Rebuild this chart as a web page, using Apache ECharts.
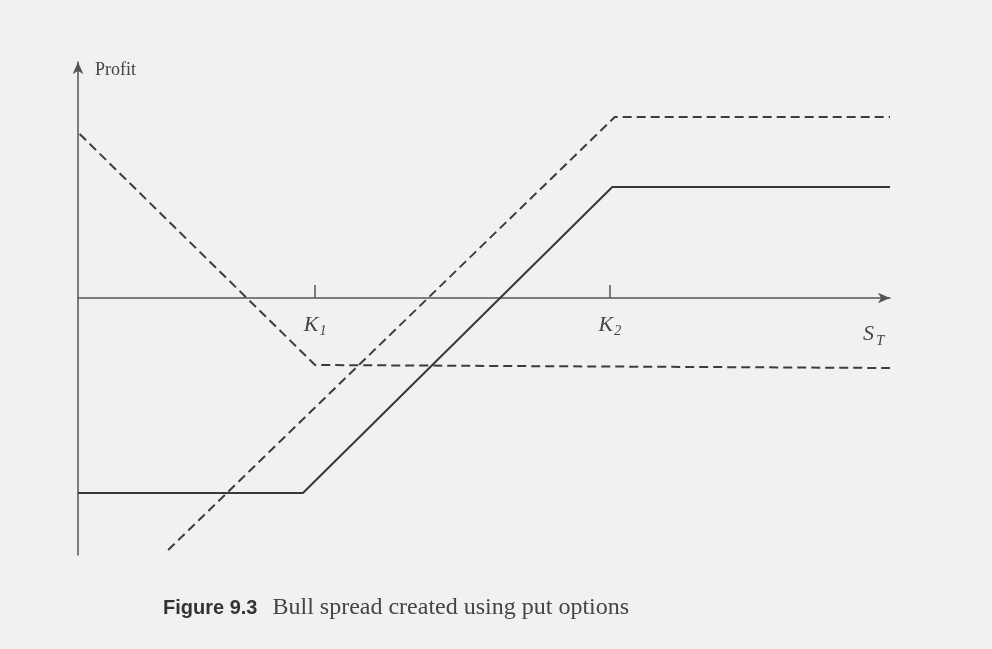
<!DOCTYPE html>
<html>
<head>
<meta charset="utf-8">
<script src="https://cdn.jsdelivr.net/npm/echarts@6/dist/echarts.min.js"></script>
<style>
  html, body { margin: 0; padding: 0; background: #f1f1f1; }
  #chart { width: 992px; height: 649px; }
</style>
</head>
<body>
<div id="chart"></div>
<script>
// stock price axis runs 0..100, profit axis in arbitrary units
const strikes = [29.2, 65.5]
const strikeLabels = ['K1', 'K2']
const stLabelPos = 98

// bull spread built from puts
const longPutK1 = [[0.2, 16.4], [29.2, -6.7], [100, -7.0]]
const shortPutK2 = [[11.1, -25.2], [66.1, 18.1], [100, 18.1]]
const bullSpread = [[0, -19.5], [27.7, -19.5], [65.8, 11.1], [100, 11.1]]

const chart = echarts.init(document.getElementById('chart'))

const labelFor = (v) => {
  const i = strikes.indexOf(v)
  if (i >= 0) return '{k|K}{s|' + strikeLabels[i].slice(1) + '}'
  return '{S|S}{t|T}'
}

const serifItalic = { fontFamily: 'Liberation Serif', fontStyle: 'italic', color: '#444' }

chart.setOption({
  animation: false,
  backgroundColor: '#f1f1f1',
  grid: { left: 78, right: 102, top: 62, bottom: 94 },
  title: {
    left: 163,
    top: 596,
    padding: 0,
    text: '{b|Figure 9.3}   {r|Bull spread created using put options}',
    textStyle: {
      fontWeight: 'normal',
      rich: {
        b: { fontFamily: 'Liberation Sans', fontWeight: 'bold', fontSize: 20, color: '#333' },
        r: { fontFamily: 'Liberation Serif', fontWeight: 'normal', fontSize: 24, color: '#444' }
      }
    }
  },
  xAxis: {
    type: 'value',
    min: 0,
    max: 100,
    offset: -257,
    axisLine: {
      onZero: false,
      symbol: ['none', 'arrow'],
      symbolSize: [8, 12],
      lineStyle: { color: '#555', width: 1.5 }
    },
    axisTick: {
      show: true,
      inside: true,
      length: 13,
      customValues: strikes,
      lineStyle: { color: '#555', width: 1.5 }
    },
    axisLabel: {
      customValues: strikes.concat([stLabelPos]),
      margin: 14,
      formatter: labelFor,
      rich: {
        k: Object.assign({ fontSize: 22 }, serifItalic),
        s: Object.assign({ fontSize: 14, verticalAlign: 'bottom', padding: [12, 0, 0, 1] }, serifItalic),
        S: Object.assign({ fontSize: 22, padding: [8, 0, 0, 0] }, serifItalic),
        t: Object.assign({ fontSize: 15, verticalAlign: 'bottom', padding: [22, 0, 0, 2] }, serifItalic)
      }
    },
    splitLine: { show: false }
  },
  yAxis: {
    type: 'value',
    min: -25.7,
    max: 23.6,
    name: 'Profit',
    nameLocation: 'end',
    nameGap: -8,
    nameTextStyle: {
      fontFamily: 'Liberation Serif',
      fontSize: 18,
      color: '#444',
      align: 'left',
      verticalAlign: 'middle',
      padding: [0, 0, 0, 17]
    },
    axisLine: {
      show: true,
      symbol: ['none', 'arrow'],
      symbolSize: [8, 12],
      lineStyle: { color: '#555', width: 1.5 }
    },
    axisTick: { show: false },
    axisLabel: { show: false },
    splitLine: { show: false }
  },
  series: [
    {
      name: 'Long put K1',
      type: 'line',
      data: longPutK1,
      symbol: 'none',
      lineStyle: { color: '#3c3c3c', width: 2, type: [9, 5] }
    },
    {
      name: 'Short put K2',
      type: 'line',
      data: shortPutK2,
      symbol: 'none',
      lineStyle: { color: '#3c3c3c', width: 2, type: [9, 5] }
    },
    {
      name: 'Bull spread',
      type: 'line',
      data: bullSpread,
      symbol: 'none',
      lineStyle: { color: '#383838', width: 2 }
    }
  ]
})
</script>
</body>
</html>
